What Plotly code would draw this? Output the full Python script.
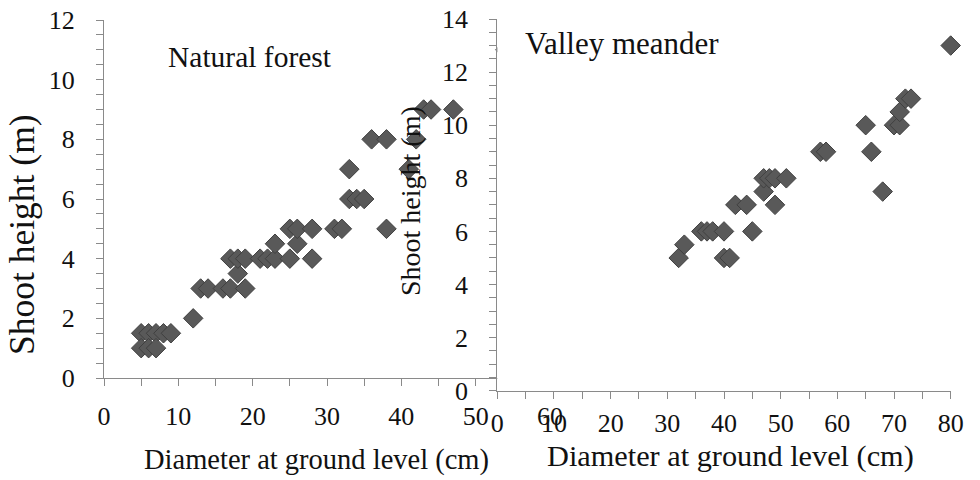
import plotly.graph_objects as go

# ---- Data: Natural forest (left panel) ----
nf_diameter = [5, 6, 7, 8, 9, 5, 6, 7, 12, 13, 14, 16, 17, 19, 18,
               17, 18, 19, 21, 22, 23, 25, 28, 23, 26,
               25, 26, 28, 31, 32, 38, 33, 34, 35, 33, 41,
               36, 38, 42, 43, 44, 47, 54]
nf_height = [1.5, 1.5, 1.5, 1.5, 1.5, 1, 1, 1, 2, 3, 3, 3, 3, 3, 3.5,
             4, 4, 4, 4, 4, 4, 4, 4, 4.5, 4.5,
             5, 5, 5, 5, 5, 5, 6, 6, 6, 7, 7,
             8, 8, 8, 9, 9, 9, 11]

# ---- Data: Valley meander (right panel) ----
vm_diameter = [32, 33, 40, 41, 36, 37, 38, 40, 45, 42, 44, 49, 47, 47,
               48, 49, 51, 57, 58, 66, 68, 65, 70, 71, 71, 72, 73, 80]
vm_height = [5, 5.5, 5, 5, 6, 6, 6, 6, 6, 7, 7, 7, 7.5, 8,
             8, 8, 8, 9, 9, 9, 7.5, 10, 10, 10, 10.5, 11, 11, 13]

panel_labels = ["Natural forest", "Valley meander"]
x_title = "Diameter at ground level (cm)"
y_title = "Shoot height (m)"

FONT = "Liberation Serif"
AXC = "#8a8a8a"
MFILL = "#595959"
MLINE = "#404040"

fig = go.Figure()
marker = dict(symbol="diamond", size=15, color=MFILL, line=dict(color=MLINE, width=1))
fig.add_trace(go.Scatter(x=nf_diameter, y=nf_height, mode="markers", marker=marker,
                         xaxis="x", yaxis="y", showlegend=False, cliponaxis=False))
fig.add_trace(go.Scatter(x=vm_diameter, y=vm_height, mode="markers", marker=marker,
                         xaxis="x2", yaxis="y2", showlegend=False, cliponaxis=False))

def ax(rng, dtick, minor, domain, anchor, standoff):
    return dict(range=rng, dtick=dtick, tick0=0, domain=domain, anchor=anchor,
                automargin=False,
                showline=True, linecolor=AXC, linewidth=1, showgrid=False, zeroline=False,
                ticks="outside", ticklen=7, tickwidth=1, tickcolor=AXC,
                minor=dict(dtick=minor, ticks="outside", ticklen=7, tickwidth=1, tickcolor=AXC, showgrid=False),
                tickfont=dict(family=FONT, size=26, color="#111"),
                ticklabelstandoff=standoff, fixedrange=True)

W, H = 980, 480
fig.update_layout(
    template="none",
    width=W, height=H,
    margin=dict(l=0, r=0, t=0, b=0, pad=0, autoexpand=False),
    paper_bgcolor="white", plot_bgcolor="#ffffff",
    xaxis=ax([0, 60], 10, 5, [104 / W, 550 / W], "y", 8),
    yaxis=ax([0, 12], 2, 0.5, [1 - 378 / H, 1 - 20 / H], "x", 16),
    xaxis2=ax([0, 80], 10, 5, [497.3 / W, 950.7 / W], "y2", 2),
    yaxis2=ax([0, 14], 2, 0.5, [1 - 390.7 / H, 1 - 19 / H], "x2", 16),
    font=dict(family=FONT, color="#111"),
)

def ann(text, xc, yc, size, angle=0):
    fig.add_annotation(text=text, x=xc / W, y=1 - yc / H, xref="paper", yref="paper",
                       xanchor="center", yanchor="middle", showarrow=False,
                       textangle=angle, font=dict(family=FONT, size=size, color="#111"))

ann(x_title, 316.5, 460, 28.5)
ann(x_title, 730, 456, 30.3)
ann(y_title, 22, 235, 35.5, -90)
ann(y_title, 411, 201, 28, -90)
ann(panel_labels[0], 250, 57, 29.5)
ann(panel_labels[1], 622, 43, 31)

fig.write_html("out.html", config={"displayModeBar": False},
               post_script="document.body.style.margin='0px';document.body.style.overflow='hidden';")
